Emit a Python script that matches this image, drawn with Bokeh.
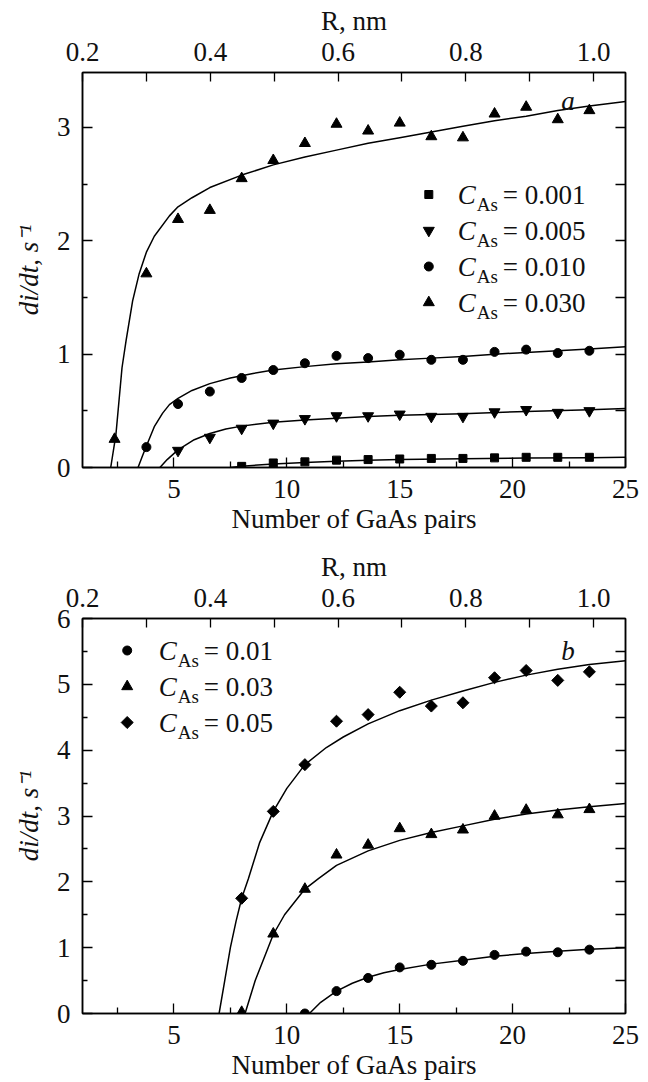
import math
from bokeh.plotting import figure
from bokeh.models import (Range1d, LinearAxis, FixedTicker, Label,
                          PrintfTickFormatter, CustomJSTickFormatter)
from bokeh.layouts import column
from bokeh.embed import file_html
from bokeh.resources import INLINE

# ---------------- data ----------------
# number of GaAs pairs of the measured points (R = 0.25 ... 1.00 nm)
gaas_pairs = [2.37, 3.78, 5.18, 6.59, 8.0, 9.4, 10.8, 12.2, 13.6, 15.0,
              16.4, 17.8, 19.2, 20.6, 22.0, 23.4]

# panel a : measured points
a_c0001_x = [8.0, 9.4, 10.8, 12.2, 13.6, 15.0, 16.4, 17.8, 19.2, 20.6, 22.0, 23.4]
a_c0001_y = [0.01, 0.04, 0.05, 0.065, 0.07, 0.075, 0.08, 0.08, 0.085, 0.09, 0.09, 0.09]
a_c0005_x = [5.18, 6.59, 8.0, 9.4, 10.8, 12.2, 13.6, 15.0, 16.4, 17.8, 19.2, 20.6, 22.0, 23.4]
a_c0005_y = [0.15, 0.265, 0.345, 0.39, 0.43, 0.455, 0.455, 0.47, 0.45, 0.45, 0.49, 0.51, 0.485, 0.50]
a_c0010_x = [3.78, 5.18, 6.59, 8.0, 9.4, 10.8, 12.2, 13.6, 15.0, 16.4, 17.8, 19.2, 20.6, 22.0, 23.4]
a_c0010_y = [0.18, 0.56, 0.67, 0.79, 0.86, 0.92, 0.985, 0.965, 0.995, 0.95, 0.95, 1.02, 1.04, 1.01, 1.03]
a_c0030_x = [2.37, 3.78, 5.18, 6.59, 8.0, 9.4, 10.8, 12.2, 13.6, 15.0, 16.4, 17.8, 19.2, 20.6, 22.0, 23.4]
a_c0030_y = [0.25, 1.71, 2.19, 2.27, 2.55, 2.71, 2.86, 3.03, 2.97, 3.04, 2.92, 2.91, 3.12, 3.18, 3.07, 3.15]

# panel a : fitted curves
a_fit0001_x = [7.5, 8.0, 9.4, 10.8, 12.2, 13.6, 15.0, 17.8, 20.6, 23.4, 25.0]
a_fit0001_y = [0.0, 0.012, 0.03, 0.045, 0.055, 0.063, 0.07, 0.077, 0.083, 0.087, 0.09]
a_fit0005_x = [4.38, 4.7, 5.18, 5.9, 6.59, 7.3, 8.0, 9.4, 10.8, 12.2, 13.6, 15.0, 17.8, 20.6, 23.4, 25.0]
a_fit0005_y = [0.0, 0.07, 0.155, 0.245, 0.30, 0.34, 0.365, 0.40, 0.42, 0.435, 0.45, 0.46, 0.475, 0.495, 0.51, 0.52]
a_fit0010_x = [3.41, 3.6, 3.78, 4.13, 4.5, 4.8, 5.18, 5.8, 6.59, 7.5, 8.5, 9.4, 10.8, 12.2,
               13.6, 15.0, 16.4, 17.8, 19.2, 20.6, 22.0, 23.4, 25.0]
a_fit0010_y = [0.0, 0.10, 0.19, 0.36, 0.48, 0.555, 0.61, 0.68, 0.74, 0.79, 0.83, 0.86, 0.89, 0.915,
               0.93, 0.95, 0.965, 0.98, 1.0, 1.015, 1.03, 1.045, 1.065]
a_fit0030_x = [2.2, 2.43, 2.7, 2.88, 3.17, 3.46, 3.78, 4.13, 4.8, 5.18, 5.8, 6.59, 8.0, 9.4, 10.8,
               12.2, 13.6, 15.0, 16.4, 17.8, 19.2, 20.6, 22.0, 23.4, 25.0]
a_fit0030_y = [0.0, 0.29, 0.88, 1.12, 1.47, 1.71, 1.90, 2.04, 2.22, 2.30, 2.38, 2.47, 2.58, 2.67, 2.74,
               2.80, 2.86, 2.91, 2.96, 3.01, 3.06, 3.10, 3.15, 3.19, 3.23]

# panel b : measured points
b_c001_x = [10.8, 12.2, 13.6, 15.0, 16.4, 17.8, 19.2, 20.6, 22.0, 23.4]
b_c001_y = [0.0, 0.34, 0.54, 0.70, 0.74, 0.80, 0.89, 0.94, 0.93, 0.97]
b_c003_x = [8.0, 9.4, 10.8, 12.2, 13.6, 15.0, 16.4, 17.8, 19.2, 20.6, 22.0, 23.4]
b_c003_y = [0.02, 1.21, 1.89, 2.41, 2.56, 2.81, 2.72, 2.79, 3.00, 3.09, 3.02, 3.10]
b_c005_x = [8.0, 9.4, 10.8, 12.2, 13.6, 15.0, 16.4, 17.8, 19.2, 20.6, 22.0, 23.4]
b_c005_y = [1.75, 3.07, 3.78, 4.44, 4.54, 4.88, 4.67, 4.72, 5.10, 5.21, 5.06, 5.19]

# panel b : fitted curves
b_fit001_x = [11.0, 11.5, 12.2, 12.9, 13.6, 14.3, 15.0, 16.4, 17.8, 19.2, 20.6, 22.0, 23.4, 25.0]
b_fit001_y = [0.0, 0.17, 0.34, 0.46, 0.55, 0.62, 0.67, 0.75, 0.81, 0.87, 0.91, 0.945, 0.975, 1.0]
b_fit003_x = [8.15, 8.6, 9.17, 9.4, 9.9, 10.8, 11.4, 12.2, 13.6, 15.0, 16.4, 17.8, 19.2, 20.6, 22.0, 23.4, 25.0]
b_fit003_y = [0.0, 0.5, 1.0, 1.2, 1.5, 1.89, 2.05, 2.25, 2.47, 2.63, 2.75, 2.85, 2.95, 3.03, 3.09, 3.14, 3.19]
b_fit005_x = [7.0, 7.25, 7.5, 7.75, 8.0, 8.3, 8.8, 9.4, 10.0, 10.8, 11.75, 12.5, 13.6, 15.0, 16.4,
              17.8, 19.2, 20.6, 22.0, 23.4, 25.0]
b_fit005_y = [0.0, 0.5, 1.0, 1.4, 1.75, 2.05, 2.6, 3.07, 3.42, 3.78, 4.04, 4.2, 4.4, 4.6, 4.76,
              4.9, 5.03, 5.14, 5.23, 5.3, 5.36]

# axes
x_ticks = [5, 10, 15, 20, 25]
x_minor = [2.5, 7.5, 12.5, 17.5, 22.5]
r_ticks = [0.2, 0.4, 0.6, 0.8, 1.0]
r_minor = [0.3, 0.5, 0.7, 0.9]
a_yticks = [0, 1, 2, 3]
a_yminor = [0.5, 1.5, 2.5]
a_right = [0.5, 1.0, 1.5, 2.0, 2.5, 3.0]
b_yticks = [0, 1, 2, 3, 4, 5, 6]
b_yminor = [0.5, 1.5, 2.5, 3.5, 4.5, 5.5]
b_right = [0.5, 1.0, 1.5, 2.0, 2.5, 3.0, 3.5, 4.0, 4.5, 5.0, 5.5]

x_title = "Number of GaAs pairs"
top_title = "R, nm"
y_title = "di/dt, s\u207b\u00b9"
a_labels = ["= 0.001", "= 0.005", "= 0.010", "= 0.030"]
b_labels = ["= 0.01", "= 0.03", "= 0.05"]

# ---------------- layout constants ----------------
FL, FR, FT, FH = 82, 625, 72, 395
XR = (0.95, 25.0)
RR = (0.2, 1.05)
FONT = "Liberation Serif"
FS = "27px"
INK = "#111111"


def style_axis(ax, major_in, minor_in, standoff):
    ax.axis_line_color = "black"
    ax.axis_line_width = 1.5
    ax.major_tick_in = major_in
    ax.major_tick_out = 0
    ax.minor_tick_in = minor_in
    ax.minor_tick_out = 0
    ax.major_tick_line_width = 1.3
    ax.minor_tick_line_width = 1.3
    ax.major_tick_line_color = "black"
    ax.minor_tick_line_color = "black"
    ax.major_label_text_font = FONT
    ax.major_label_text_font_size = FS
    ax.major_label_text_color = INK
    ax.major_label_standoff = standoff
    ax.axis_label_text_font = FONT
    ax.axis_label_text_font_size = FS
    ax.axis_label_text_color = INK


def make_panel(height, bottom, ymax, yt, ym, yr):
    p = figure(width=648, height=height, x_range=Range1d(*XR), y_range=Range1d(0, ymax),
               output_backend="svg", toolbar_location=None,
               min_border_left=FL, min_border_right=648 - FR,
               min_border_top=FT, min_border_bottom=bottom,
               background_fill_color="white", border_fill_color="white")
    p.grid.visible = False
    p.outline_line_color = "black"
    p.outline_line_width = 1.5
    p.extra_x_ranges = {"R": Range1d(*RR)}

    xa = p.xaxis[0]
    xa.ticker = FixedTicker(ticks=x_ticks, minor_ticks=x_minor)
    style_axis(xa, 10, 6, 12)
    xa.axis_label = x_title
    xa.axis_label_standoff = 3
    xa.axis_label_text_font_style = "normal"

    ya = p.yaxis[0]
    ya.ticker = FixedTicker(ticks=yt, minor_ticks=ym)
    style_axis(ya, 10, 5, 12)
    ya.axis_label = y_title
    ya.axis_label_standoff = 10
    ya.axis_label_text_font_style = "italic"

    top = LinearAxis(x_range_name="R", ticker=FixedTicker(ticks=r_ticks, minor_ticks=r_minor),
                     formatter=PrintfTickFormatter(format="%.1f"))
    style_axis(top, 9, 9, 12)
    top.axis_label = top_title
    top.axis_label_standoff = 4
    top.axis_label_text_font_style = "normal"
    p.add_layout(top, "above")

    right = LinearAxis(ticker=FixedTicker(ticks=yr, minor_ticks=[]),
                       formatter=CustomJSTickFormatter(code="return ''"))
    style_axis(right, 10, 0, 0)
    p.add_layout(right, "right")

    def dx(px):
        return XR[0] + (px - FL) / (FR - FL) * (XR[1] - XR[0])

    def dy(rel):
        return ymax * (1 - rel / FH)

    return p, dx, dy


def add_legend(p, dx, dy, mx, tx, rows, markers, sizes, angles, labels):
    p.scatter(x=[dx(mx)] * len(rows), y=[dy(r) for r in rows], marker=markers,
              size=sizes, angle=angles, color="black")
    for r, lab in zip(rows, labels):
        p.add_layout(Label(x=dx(tx), y=dy(r), text="C", text_align="left", text_baseline="middle",
                           text_font=FONT, text_font_size=FS, text_font_style="italic",
                           text_color=INK))
        p.add_layout(Label(x=dx(tx + 19), y=dy(r + 10), text="As", text_align="left",
                           text_baseline="middle", text_font=FONT, text_font_size="19px",
                           text_color=INK))
        p.add_layout(Label(x=dx(tx + 45), y=dy(r), text=lab, text_align="left",
                           text_baseline="middle", text_font=FONT, text_font_size=FS,
                           text_color=INK))


LW = 1.5
DIAMOND = math.pi / 4

# ---------------- panel a ----------------
pa, dxa, dya = make_panel(546, 79, 3.485, a_yticks, a_yminor, a_right)
for fx, fy in [(a_fit0001_x, a_fit0001_y), (a_fit0005_x, a_fit0005_y),
               (a_fit0010_x, a_fit0010_y), (a_fit0030_x, a_fit0030_y)]:
    pa.line(fx, fy, line_color="black", line_width=LW, line_join="round")
pa.scatter(a_c0001_x, a_c0001_y, marker="square", size=8, color="black")
pa.scatter(a_c0005_x, a_c0005_y, marker="inverted_triangle", size=11, color="black")
pa.scatter(a_c0010_x, a_c0010_y, marker="circle", size=9, color="black")
pa.scatter(a_c0030_x, a_c0030_y, marker="triangle", size=11, color="black")
add_legend(pa, dxa, dya, 428.3, 457.3, [122, 158, 194, 230],
           ["square", "inverted_triangle", "circle", "triangle"], [8, 11, 9, 11],
           [0, 0, 0, 0], a_labels)
pa.add_layout(Label(x=dxa(567.5), y=dya(28), text="a", text_align="center",
                    text_baseline="alphabetic", text_font=FONT, text_font_size=FS,
                    text_font_style="italic", text_color=INK))

# ---------------- panel b ----------------
pb, dxb, dyb = make_panel(536, 69, 6.0, b_yticks, b_yminor, b_right)
for fx, fy in [(b_fit001_x, b_fit001_y), (b_fit003_x, b_fit003_y), (b_fit005_x, b_fit005_y)]:
    pb.line(fx, fy, line_color="black", line_width=LW, line_join="round")
pb.scatter(b_c001_x, b_c001_y, marker="circle", size=9, color="black")
pb.scatter(b_c003_x, b_c003_y, marker="triangle", size=11, color="black")
pb.scatter(b_c005_x, b_c005_y, marker="square", angle=DIAMOND, size=8.5, color="black")
add_legend(pb, dxb, dyb, 126.7, 158.3, [32, 68, 104],
           ["circle", "triangle", "square"], [9, 11, 8.5], [0, 0, DIAMOND], b_labels)
pb.add_layout(Label(x=dxb(567.5), y=dyb(32.7), text="b", text_align="center",
                    text_baseline="alphabetic", text_font=FONT, text_font_size=FS,
                    text_font_style="italic", text_color=INK))

layout = column(pa, pb, spacing=0)
open("out.html", "w").write(file_html(layout, INLINE))
